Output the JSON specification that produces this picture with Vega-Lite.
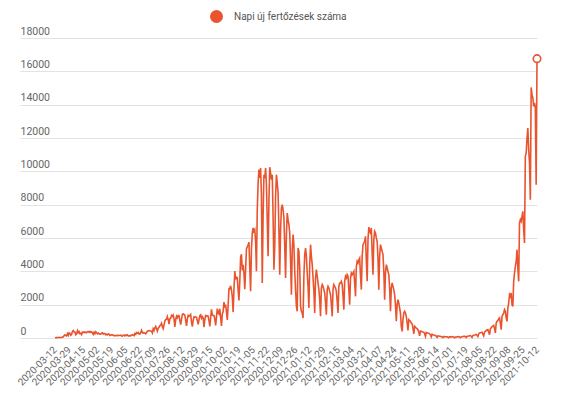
{
"$schema":"https://vega.github.io/schema/vega-lite/v6.json",
"width":517,"height":300,
"autosize":{"type":"none"},
"padding":{"left":20,"top":38,"right":38,"bottom":56},
"background":"white",
"config":{"view":{"stroke":null},"font":"Roboto"},
"data":{"values":[
{"d":"2020-03-12","v":11},{"d":"2020-03-13","v":19},{"d":"2020-03-14","v":34},{"d":"2020-03-15","v":16},{"d":"2020-03-16","v":26},{"d":"2020-03-17","v":45},{"d":"2020-03-18","v":33},{"d":"2020-03-19","v":31},{"d":"2020-03-20","v":31},{"d":"2020-03-21","v":59},{"d":"2020-03-22","v":66},{"d":"2020-03-23","v":143},{"d":"2020-03-24","v":186},{"d":"2020-03-25","v":144},{"d":"2020-03-26","v":123},{"d":"2020-03-27","v":263},{"d":"2020-03-28","v":160},{"d":"2020-03-29","v":308},{"d":"2020-03-30","v":277},{"d":"2020-03-31","v":160},
{"d":"2020-04-01","v":213},{"d":"2020-04-02","v":398},{"d":"2020-04-03","v":447},{"d":"2020-04-04","v":362},{"d":"2020-04-05","v":361},{"d":"2020-04-06","v":193},{"d":"2020-04-07","v":243},{"d":"2020-04-08","v":443},{"d":"2020-04-09","v":320},{"d":"2020-04-10","v":385},{"d":"2020-04-11","v":262},{"d":"2020-04-12","v":280},{"d":"2020-04-13","v":198},{"d":"2020-04-14","v":354},{"d":"2020-04-15","v":333},{"d":"2020-04-16","v":362},{"d":"2020-04-17","v":330},{"d":"2020-04-18","v":347},{"d":"2020-04-19","v":316},{"d":"2020-04-20","v":372},{"d":"2020-04-21","v":378},{"d":"2020-04-22","v":341},{"d":"2020-04-23","v":395},{"d":"2020-04-24","v":341},{"d":"2020-04-25","v":369},{"d":"2020-04-26","v":311},{"d":"2020-04-27","v":216},{"d":"2020-04-28","v":343},{"d":"2020-04-29","v":255},{"d":"2020-04-30","v":374},
{"d":"2020-05-01","v":318},{"d":"2020-05-02","v":247},{"d":"2020-05-03","v":291},{"d":"2020-05-04","v":250},{"d":"2020-05-05","v":233},{"d":"2020-05-06","v":227},{"d":"2020-05-07","v":285},{"d":"2020-05-08","v":309},{"d":"2020-05-09","v":235},{"d":"2020-05-10","v":274},{"d":"2020-05-11","v":256},{"d":"2020-05-12","v":190},{"d":"2020-05-13","v":229},{"d":"2020-05-14","v":190},{"d":"2020-05-15","v":239},{"d":"2020-05-16","v":222},{"d":"2020-05-17","v":157},{"d":"2020-05-18","v":183},{"d":"2020-05-19","v":188},{"d":"2020-05-20","v":190},{"d":"2020-05-21","v":162},{"d":"2020-05-22","v":130},{"d":"2020-05-23","v":158},{"d":"2020-05-24","v":139},{"d":"2020-05-25","v":133},{"d":"2020-05-26","v":166},{"d":"2020-05-27","v":138},{"d":"2020-05-28","v":152},{"d":"2020-05-29","v":164},{"d":"2020-05-30","v":174},{"d":"2020-05-31","v":118},
{"d":"2020-06-01","v":115},{"d":"2020-06-02","v":168},{"d":"2020-06-03","v":175},{"d":"2020-06-04","v":126},{"d":"2020-06-05","v":179},{"d":"2020-06-06","v":149},{"d":"2020-06-07","v":185},{"d":"2020-06-08","v":124},{"d":"2020-06-09","v":137},{"d":"2020-06-10","v":121},{"d":"2020-06-11","v":163},{"d":"2020-06-12","v":156},{"d":"2020-06-13","v":201},{"d":"2020-06-14","v":183},{"d":"2020-06-15","v":143},{"d":"2020-06-16","v":267},{"d":"2020-06-17","v":214},{"d":"2020-06-18","v":320},{"d":"2020-06-19","v":290},{"d":"2020-06-20","v":330},{"d":"2020-06-21","v":244},{"d":"2020-06-22","v":237},{"d":"2020-06-23","v":330},{"d":"2020-06-24","v":460},{"d":"2020-06-25","v":325},{"d":"2020-06-26","v":298},{"d":"2020-06-27","v":320},{"d":"2020-06-28","v":308},{"d":"2020-06-29","v":251},{"d":"2020-06-30","v":309},
{"d":"2020-07-01","v":420},{"d":"2020-07-02","v":422},{"d":"2020-07-03","v":448},{"d":"2020-07-04","v":423},{"d":"2020-07-05","v":422},{"d":"2020-07-06","v":414},{"d":"2020-07-07","v":307},{"d":"2020-07-08","v":555},{"d":"2020-07-09","v":454},{"d":"2020-07-10","v":614},{"d":"2020-07-11","v":698},{"d":"2020-07-12","v":555},{"d":"2020-07-13","v":412},{"d":"2020-07-14","v":583},{"d":"2020-07-15","v":642},{"d":"2020-07-16","v":743},{"d":"2020-07-17","v":777},{"d":"2020-07-18","v":889},{"d":"2020-07-19","v":680},{"d":"2020-07-20","v":559},{"d":"2020-07-21","v":775},{"d":"2020-07-22","v":1030},{"d":"2020-07-23","v":1112},{"d":"2020-07-24","v":1120},{"d":"2020-07-25","v":1284},{"d":"2020-07-26","v":1104},{"d":"2020-07-27","v":840},{"d":"2020-07-28","v":1151},{"d":"2020-07-29","v":1182},{"d":"2020-07-30","v":1356},{"d":"2020-07-31","v":1295},
{"d":"2020-08-01","v":1378},{"d":"2020-08-02","v":1150},{"d":"2020-08-03","v":662},{"d":"2020-08-04","v":1097},{"d":"2020-08-05","v":1310},{"d":"2020-08-06","v":1215},{"d":"2020-08-07","v":1357},{"d":"2020-08-08","v":1345},{"d":"2020-08-09","v":1064},{"d":"2020-08-10","v":803},{"d":"2020-08-11","v":1120},{"d":"2020-08-12","v":1415},{"d":"2020-08-13","v":1454},{"d":"2020-08-14","v":1408},{"d":"2020-08-15","v":1378},{"d":"2020-08-16","v":1060},{"d":"2020-08-17","v":733},{"d":"2020-08-18","v":1136},{"d":"2020-08-19","v":1352},{"d":"2020-08-20","v":1301},{"d":"2020-08-21","v":1346},{"d":"2020-08-22","v":1409},{"d":"2020-08-23","v":957},{"d":"2020-08-24","v":683},{"d":"2020-08-25","v":1044},{"d":"2020-08-26","v":1261},{"d":"2020-08-27","v":1254},{"d":"2020-08-28","v":1269},{"d":"2020-08-29","v":1247},{"d":"2020-08-30","v":1047},{"d":"2020-08-31","v":813},
{"d":"2020-09-01","v":1089},{"d":"2020-09-02","v":1339},{"d":"2020-09-03","v":1392},{"d":"2020-09-04","v":1189},{"d":"2020-09-05","v":1286},{"d":"2020-09-06","v":1201},{"d":"2020-09-07","v":655},{"d":"2020-09-08","v":1107},{"d":"2020-09-09","v":1342},{"d":"2020-09-10","v":1312},{"d":"2020-09-11","v":1335},{"d":"2020-09-12","v":1316},{"d":"2020-09-13","v":1046},{"d":"2020-09-14","v":697},{"d":"2020-09-15","v":1201},{"d":"2020-09-16","v":1713},{"d":"2020-09-17","v":1376},{"d":"2020-09-18","v":1348},{"d":"2020-09-19","v":1346},{"d":"2020-09-20","v":1131},{"d":"2020-09-21","v":754},{"d":"2020-09-22","v":1257},{"d":"2020-09-23","v":1767},{"d":"2020-09-24","v":1489},{"d":"2020-09-25","v":1438},{"d":"2020-09-26","v":1752},{"d":"2020-09-27","v":1206},{"d":"2020-09-28","v":728},{"d":"2020-09-29","v":1436},{"d":"2020-09-30","v":1591},
{"d":"2020-10-01","v":2158},{"d":"2020-10-02","v":1829},{"d":"2020-10-03","v":2009},{"d":"2020-10-04","v":1562},{"d":"2020-10-05","v":1089},{"d":"2020-10-06","v":1958},{"d":"2020-10-07","v":2958},{"d":"2020-10-08","v":2952},{"d":"2020-10-09","v":3130},{"d":"2020-10-10","v":2880},{"d":"2020-10-11","v":2476},{"d":"2020-10-12","v":1555},{"d":"2020-10-13","v":2905},{"d":"2020-10-14","v":4016},{"d":"2020-10-15","v":3517},{"d":"2020-10-16","v":3652},{"d":"2020-10-17","v":3618},{"d":"2020-10-18","v":2890},{"d":"2020-10-19","v":2250},{"d":"2020-10-20","v":3400},{"d":"2020-10-21","v":4848},{"d":"2020-10-22","v":5028},{"d":"2020-10-23","v":4061},{"d":"2020-10-24","v":4389},{"d":"2020-10-25","v":3884},{"d":"2020-10-26","v":2930},{"d":"2020-10-27","v":4105},{"d":"2020-10-28","v":5343},{"d":"2020-10-29","v":5475},{"d":"2020-10-30","v":5595},{"d":"2020-10-31","v":5753},
{"d":"2020-11-01","v":4200},{"d":"2020-11-02","v":2800},{"d":"2020-11-03","v":5300},{"d":"2020-11-04","v":6300},{"d":"2020-11-05","v":6600},{"d":"2020-11-06","v":6400},{"d":"2020-11-07","v":6500},{"d":"2020-11-08","v":5800},{"d":"2020-11-09","v":4000},{"d":"2020-11-10","v":7700},{"d":"2020-11-11","v":9300},{"d":"2020-11-12","v":10100},{"d":"2020-11-13","v":9600},{"d":"2020-11-14","v":10200},{"d":"2020-11-15","v":8600},{"d":"2020-11-16","v":3300},{"d":"2020-11-17","v":7300},{"d":"2020-11-18","v":9800},{"d":"2020-11-19","v":9600},{"d":"2020-11-20","v":10200},{"d":"2020-11-21","v":9200},{"d":"2020-11-22","v":7000},{"d":"2020-11-23","v":4900},{"d":"2020-11-24","v":8200},{"d":"2020-11-25","v":10250},{"d":"2020-11-26","v":9900},{"d":"2020-11-27","v":9500},{"d":"2020-11-28","v":9800},{"d":"2020-11-29","v":7300},{"d":"2020-11-30","v":4100},
{"d":"2020-12-01","v":5500},{"d":"2020-12-02","v":8500},{"d":"2020-12-03","v":9800},{"d":"2020-12-04","v":9300},{"d":"2020-12-05","v":8700},{"d":"2020-12-06","v":6500},{"d":"2020-12-07","v":3800},{"d":"2020-12-08","v":6500},{"d":"2020-12-09","v":7800},{"d":"2020-12-10","v":8000},{"d":"2020-12-11","v":7700},{"d":"2020-12-12","v":7200},{"d":"2020-12-13","v":5500},{"d":"2020-12-14","v":3600},{"d":"2020-12-15","v":6200},{"d":"2020-12-16","v":7500},{"d":"2020-12-17","v":7100},{"d":"2020-12-18","v":6800},{"d":"2020-12-19","v":6300},{"d":"2020-12-20","v":4600},{"d":"2020-12-21","v":2600},{"d":"2020-12-22","v":5300},{"d":"2020-12-23","v":6200},{"d":"2020-12-24","v":5600},{"d":"2020-12-25","v":4000},{"d":"2020-12-26","v":2900},{"d":"2020-12-27","v":1900},{"d":"2020-12-28","v":1600},{"d":"2020-12-29","v":5400},{"d":"2020-12-30","v":5200},{"d":"2020-12-31","v":4200},
{"d":"2021-01-01","v":1900},{"d":"2021-01-02","v":1600},{"d":"2021-01-03","v":1500},{"d":"2021-01-04","v":1200},{"d":"2021-01-05","v":3700},{"d":"2021-01-06","v":5000},{"d":"2021-01-07","v":5400},{"d":"2021-01-08","v":4900},{"d":"2021-01-09","v":3900},{"d":"2021-01-10","v":3100},{"d":"2021-01-11","v":1800},{"d":"2021-01-12","v":4400},{"d":"2021-01-13","v":5600},{"d":"2021-01-14","v":4900},{"d":"2021-01-15","v":4400},{"d":"2021-01-16","v":3600},{"d":"2021-01-17","v":2800},{"d":"2021-01-18","v":1500},{"d":"2021-01-19","v":3600},{"d":"2021-01-20","v":4100},{"d":"2021-01-21","v":3700},{"d":"2021-01-22","v":3300},{"d":"2021-01-23","v":2900},{"d":"2021-01-24","v":2300},{"d":"2021-01-25","v":1300},{"d":"2021-01-26","v":3000},{"d":"2021-01-27","v":3200},{"d":"2021-01-28","v":3100},{"d":"2021-01-29","v":2900},{"d":"2021-01-30","v":2700},{"d":"2021-01-31","v":2100},
{"d":"2021-02-01","v":1400},{"d":"2021-02-02","v":2900},{"d":"2021-02-03","v":3100},{"d":"2021-02-04","v":3000},{"d":"2021-02-05","v":2800},{"d":"2021-02-06","v":2600},{"d":"2021-02-07","v":2000},{"d":"2021-02-08","v":1300},{"d":"2021-02-09","v":2900},{"d":"2021-02-10","v":3200},{"d":"2021-02-11","v":3100},{"d":"2021-02-12","v":3000},{"d":"2021-02-13","v":2800},{"d":"2021-02-14","v":2200},{"d":"2021-02-15","v":1500},{"d":"2021-02-16","v":3100},{"d":"2021-02-17","v":3300},{"d":"2021-02-18","v":3300},{"d":"2021-02-19","v":3400},{"d":"2021-02-20","v":3200},{"d":"2021-02-21","v":2500},{"d":"2021-02-22","v":1700},{"d":"2021-02-23","v":3400},{"d":"2021-02-24","v":3700},{"d":"2021-02-25","v":3600},{"d":"2021-02-26","v":3800},{"d":"2021-02-27","v":3700},{"d":"2021-02-28","v":2900},
{"d":"2021-03-01","v":2000},{"d":"2021-03-02","v":3600},{"d":"2021-03-03","v":3900},{"d":"2021-03-04","v":3800},{"d":"2021-03-05","v":3900},{"d":"2021-03-06","v":4000},{"d":"2021-03-07","v":3300},{"d":"2021-03-08","v":2500},{"d":"2021-03-09","v":4300},{"d":"2021-03-10","v":4600},{"d":"2021-03-11","v":4500},{"d":"2021-03-12","v":4700},{"d":"2021-03-13","v":4800},{"d":"2021-03-14","v":3700},{"d":"2021-03-15","v":2900},{"d":"2021-03-16","v":4900},{"d":"2021-03-17","v":5600},{"d":"2021-03-18","v":5700},{"d":"2021-03-19","v":5800},{"d":"2021-03-20","v":6100},{"d":"2021-03-21","v":4600},{"d":"2021-03-22","v":3400},{"d":"2021-03-23","v":5900},{"d":"2021-03-24","v":6650},{"d":"2021-03-25","v":6400},{"d":"2021-03-26","v":6300},{"d":"2021-03-27","v":6600},{"d":"2021-03-28","v":5100},{"d":"2021-03-29","v":3800},{"d":"2021-03-30","v":5900},{"d":"2021-03-31","v":6400},
{"d":"2021-04-01","v":6300},{"d":"2021-04-02","v":6000},{"d":"2021-04-03","v":5800},{"d":"2021-04-04","v":4800},{"d":"2021-04-05","v":2900},{"d":"2021-04-06","v":4900},{"d":"2021-04-07","v":5600},{"d":"2021-04-08","v":5400},{"d":"2021-04-09","v":5200},{"d":"2021-04-10","v":5000},{"d":"2021-04-11","v":4000},{"d":"2021-04-12","v":2300},{"d":"2021-04-13","v":3900},{"d":"2021-04-14","v":4400},{"d":"2021-04-15","v":4200},{"d":"2021-04-16","v":4000},{"d":"2021-04-17","v":3800},{"d":"2021-04-18","v":3000},{"d":"2021-04-19","v":1600},{"d":"2021-04-20","v":3000},{"d":"2021-04-21","v":3300},{"d":"2021-04-22","v":3100},{"d":"2021-04-23","v":2900},{"d":"2021-04-24","v":2600},{"d":"2021-04-25","v":2000},{"d":"2021-04-26","v":1000},{"d":"2021-04-27","v":2000},{"d":"2021-04-28","v":2300},{"d":"2021-04-29","v":2100},{"d":"2021-04-30","v":1800},
{"d":"2021-05-01","v":1500},{"d":"2021-05-02","v":700},{"d":"2021-05-03","v":400},{"d":"2021-05-04","v":1100},{"d":"2021-05-05","v":1500},{"d":"2021-05-06","v":1600},{"d":"2021-05-07","v":1500},{"d":"2021-05-08","v":1300},{"d":"2021-05-09","v":900},{"d":"2021-05-10","v":450},{"d":"2021-05-11","v":1100},{"d":"2021-05-12","v":1050},{"d":"2021-05-13","v":1000},{"d":"2021-05-14","v":900},{"d":"2021-05-15","v":850},{"d":"2021-05-16","v":600},{"d":"2021-05-17","v":250},{"d":"2021-05-18","v":700},{"d":"2021-05-19","v":650},{"d":"2021-05-20","v":600},{"d":"2021-05-21","v":560},{"d":"2021-05-22","v":500},{"d":"2021-05-23","v":350},{"d":"2021-05-24","v":130},{"d":"2021-05-25","v":420},{"d":"2021-05-26","v":400},{"d":"2021-05-27","v":380},{"d":"2021-05-28","v":360},{"d":"2021-05-29","v":350},{"d":"2021-05-30","v":260},{"d":"2021-05-31","v":100},
{"d":"2021-06-01","v":330},{"d":"2021-06-02","v":320},{"d":"2021-06-03","v":290},{"d":"2021-06-04","v":280},{"d":"2021-06-05","v":250},{"d":"2021-06-06","v":190},{"d":"2021-06-07","v":70},{"d":"2021-06-08","v":230},{"d":"2021-06-09","v":200},{"d":"2021-06-10","v":180},{"d":"2021-06-11","v":170},{"d":"2021-06-12","v":150},{"d":"2021-06-13","v":120},{"d":"2021-06-14","v":40},{"d":"2021-06-15","v":130},{"d":"2021-06-16","v":120},{"d":"2021-06-17","v":110},{"d":"2021-06-18","v":100},{"d":"2021-06-19","v":95},{"d":"2021-06-20","v":70},{"d":"2021-06-21","v":25},{"d":"2021-06-22","v":90},{"d":"2021-06-23","v":80},{"d":"2021-06-24","v":75},{"d":"2021-06-25","v":75},{"d":"2021-06-26","v":70},{"d":"2021-06-27","v":55},{"d":"2021-06-28","v":15},{"d":"2021-06-29","v":70},{"d":"2021-06-30","v":65},
{"d":"2021-07-01","v":70},{"d":"2021-07-02","v":75},{"d":"2021-07-03","v":80},{"d":"2021-07-04","v":55},{"d":"2021-07-05","v":20},{"d":"2021-07-06","v":55},{"d":"2021-07-07","v":60},{"d":"2021-07-08","v":70},{"d":"2021-07-09","v":75},{"d":"2021-07-10","v":80},{"d":"2021-07-11","v":60},{"d":"2021-07-12","v":15},{"d":"2021-07-13","v":65},{"d":"2021-07-14","v":80},{"d":"2021-07-15","v":90},{"d":"2021-07-16","v":95},{"d":"2021-07-17","v":100},{"d":"2021-07-18","v":75},{"d":"2021-07-19","v":25},{"d":"2021-07-20","v":100},{"d":"2021-07-21","v":110},{"d":"2021-07-22","v":120},{"d":"2021-07-23","v":130},{"d":"2021-07-24","v":140},{"d":"2021-07-25","v":100},{"d":"2021-07-26","v":35},{"d":"2021-07-27","v":150},{"d":"2021-07-28","v":170},{"d":"2021-07-29","v":180},{"d":"2021-07-30","v":200},{"d":"2021-07-31","v":210},
{"d":"2021-08-01","v":150},{"d":"2021-08-02","v":90},{"d":"2021-08-03","v":250},{"d":"2021-08-04","v":300},{"d":"2021-08-05","v":320},{"d":"2021-08-06","v":330},{"d":"2021-08-07","v":350},{"d":"2021-08-08","v":230},{"d":"2021-08-09","v":130},{"d":"2021-08-10","v":350},{"d":"2021-08-11","v":400},{"d":"2021-08-12","v":450},{"d":"2021-08-13","v":480},{"d":"2021-08-14","v":500},{"d":"2021-08-15","v":350},{"d":"2021-08-16","v":200},{"d":"2021-08-17","v":550},{"d":"2021-08-18","v":620},{"d":"2021-08-19","v":680},{"d":"2021-08-20","v":720},{"d":"2021-08-21","v":760},{"d":"2021-08-22","v":550},{"d":"2021-08-23","v":300},{"d":"2021-08-24","v":900},{"d":"2021-08-25","v":1000},{"d":"2021-08-26","v":1050},{"d":"2021-08-27","v":1150},{"d":"2021-08-28","v":1200},{"d":"2021-08-29","v":900},{"d":"2021-08-30","v":500},{"d":"2021-08-31","v":1300},
{"d":"2021-09-01","v":1400},{"d":"2021-09-02","v":1500},{"d":"2021-09-03","v":1700},{"d":"2021-09-04","v":1600},{"d":"2021-09-05","v":1200},{"d":"2021-09-06","v":1000},{"d":"2021-09-07","v":1800},{"d":"2021-09-08","v":2100},{"d":"2021-09-09","v":2600},{"d":"2021-09-10","v":2500},{"d":"2021-09-11","v":2700},{"d":"2021-09-12","v":2000},{"d":"2021-09-13","v":1900},{"d":"2021-09-14","v":3400},{"d":"2021-09-15","v":3900},{"d":"2021-09-16","v":4300},{"d":"2021-09-17","v":4600},{"d":"2021-09-18","v":5300},{"d":"2021-09-19","v":4200},{"d":"2021-09-20","v":3400},{"d":"2021-09-21","v":6900},{"d":"2021-09-22","v":7100},{"d":"2021-09-23","v":7000},{"d":"2021-09-24","v":7300},{"d":"2021-09-25","v":7600},{"d":"2021-09-26","v":6500},{"d":"2021-09-27","v":5700},{"d":"2021-09-28","v":10900},{"d":"2021-09-29","v":11100},{"d":"2021-09-30","v":12000},
{"d":"2021-10-01","v":12600},{"d":"2021-10-02","v":11300},{"d":"2021-10-03","v":10500},{"d":"2021-10-04","v":8300},{"d":"2021-10-05","v":15037},{"d":"2021-10-06","v":14600},{"d":"2021-10-07","v":14400},{"d":"2021-10-08","v":13900},{"d":"2021-10-09","v":14100},{"d":"2021-10-10","v":13800},{"d":"2021-10-11","v":9200},{"d":"2021-10-12","v":16760}
]},
"encoding":{
  "x":{"field":"d","type":"temporal","scale":{"type":"utc","domain":[{"year":2020,"month":1,"date":30,"utc":true},{"year":2021,"month":10,"date":12,"utc":true}]},
   "axis":{"title":null,"labelExpr":"utcFormat(datum.value, '%Y-%m-%d')","labelAngle":-45,"labelAlign":"right","labelBaseline":"middle","labelPadding":10,"labelFontSize":10,"labelColor":"#666","labelOverlap":false,"labelFlush":false,"labelBound":false,"domain":false,"ticks":false,"grid":false,
    "encode":{"labels":{"update":{"x":{"signal":"scale('x', datum.value) + 11 - 10.5 * (datum.value - 1583971200000) / 50025600000"}}}},
    "values":[{"year":2020,"month":3,"date":12,"utc":true},{"year":2020,"month":3,"date":29,"utc":true},{"year":2020,"month":4,"date":15,"utc":true},{"year":2020,"month":5,"date":2,"utc":true},{"year":2020,"month":5,"date":19,"utc":true},{"year":2020,"month":6,"date":5,"utc":true},{"year":2020,"month":6,"date":22,"utc":true},{"year":2020,"month":7,"date":9,"utc":true},{"year":2020,"month":7,"date":26,"utc":true},{"year":2020,"month":8,"date":12,"utc":true},{"year":2020,"month":8,"date":29,"utc":true},{"year":2020,"month":9,"date":15,"utc":true},{"year":2020,"month":10,"date":2,"utc":true},{"year":2020,"month":10,"date":19,"utc":true},{"year":2020,"month":11,"date":5,"utc":true},{"year":2020,"month":11,"date":22,"utc":true},{"year":2020,"month":12,"date":9,"utc":true},{"year":2020,"month":12,"date":26,"utc":true},{"year":2021,"month":1,"date":12,"utc":true},{"year":2021,"month":1,"date":29,"utc":true},{"year":2021,"month":2,"date":15,"utc":true},{"year":2021,"month":3,"date":4,"utc":true},{"year":2021,"month":3,"date":21,"utc":true},{"year":2021,"month":4,"date":7,"utc":true},{"year":2021,"month":4,"date":24,"utc":true},{"year":2021,"month":5,"date":11,"utc":true},{"year":2021,"month":5,"date":28,"utc":true},{"year":2021,"month":6,"date":14,"utc":true},{"year":2021,"month":7,"date":1,"utc":true},{"year":2021,"month":7,"date":19,"utc":true},{"year":2021,"month":8,"date":5,"utc":true},{"year":2021,"month":8,"date":22,"utc":true},{"year":2021,"month":9,"date":8,"utc":true},{"year":2021,"month":9,"date":25,"utc":true},{"year":2021,"month":10,"date":12,"utc":true}]}},
  "y":{"field":"v","type":"quantitative","scale":{"domain":[0,18000]},
   "axis":{"title":null,"values":[0,2000,4000,6000,8000,10000,12000,14000,16000,18000],"format":"d","labelOverlap":false,"domain":false,"ticks":false,"tickSize":0,"grid":true,"gridColor":"#e3e3e3","gridWidth":1,"labelAlign":"left","labelBaseline":"alphabetic","labelPadding":0,"labelOffset":-4,"labelFontSize":10.5,"labelColor":"#666"}}
},
"layer":[
{"mark":{"type":"line","strokeWidth":1.6,"color":"#e9542f"},
 "encoding":{
  "color":{"datum":"Napi új fertőzések száma","type":"nominal","scale":{"range":["#e9542f"]},
   "legend":{"title":null,"orient":"none","legendX":190,"legendY":-28,"padding":0,"symbolType":"circle","symbolSize":169,"labelOffset":11,"labelFontSize":10,"labelColor":"#555",
    "encode":{"symbols":{"update":{"fill":{"value":"#e9542f"},"stroke":{"value":"#e9542f"},"strokeWidth":{"value":0},"opacity":{"value":1}}}}}}
 }},
{"transform":[{"filter":"datum.v == 16760"}],
 "mark":{"type":"point","shape":"circle","filled":true,"fill":"white","stroke":"#e9542f","strokeWidth":1.6,"size":56,"opacity":1}}
]
}
